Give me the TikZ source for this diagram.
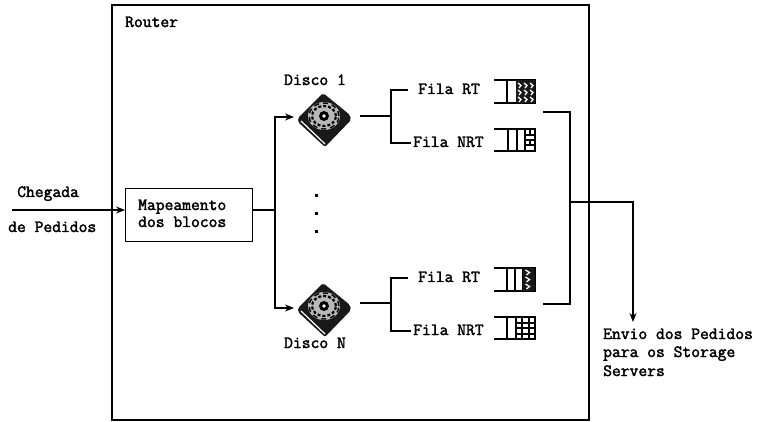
\documentclass[tikz,border=0pt]{standalone}
\usepackage{fontspec}
\newfontfamily\lblfont[FakeBold=2.2]{Latin Modern Mono}
\usetikzlibrary{arrows.meta,calc}
\tikzset{
  x=1pt,y=-1pt,
  lbl/.style={font=\lblfont\fontsize{17.1}{18}\selectfont,inner sep=0pt,text height=10pt,text depth=2pt,text=black},
  wire/.style={line width=1.05pt,black},
  arr/.style={wire,-{Stealth[length=9pt,width=7pt]}},
  point/.style={inner sep=0pt,minimum size=0pt}
}
\newcommand{\diskart}[1]{%
  \fill[black!90,rounded corners=2pt] ($(#1)+(-26,2)$) -- ($(#1)+(-1,-23)$) -- ($(#1)+(26,-1)$) -- ($(#1)+(27,4)$) -- ($(#1)+(1,31)$) -- ($(#1)+(-26,6)$) -- cycle;
  \draw[white,line width=1.2pt] ($(#1)+(-23,5)$) -- ($(#1)+(1,28)$);
  \fill[black!28] (#1) circle[x radius=16pt,y radius=14pt];
  \draw[black,line width=2.2pt,dash pattern=on 3pt off 2pt] (#1) circle[x radius=12pt,y radius=10pt];
  \draw[black,line width=1.4pt,dash pattern=on 5pt off 4pt] (#1) circle[x radius=15pt,y radius=13pt];
  \fill[black] (#1) circle[radius=5pt];
  \fill[white] (#1) circle[radius=1.8pt];
}
\newcommand{\queue}[3]{%
  \draw[wire] (494,#1) -- (535,#1) -- (535,#2) -- (494,#2);
  \foreach \xx in {#3}{\draw[wire] (\xx,#1) -- (\xx,#2);}
}
\begin{document}
\begin{tikzpicture}
\useasboundingbox (0,0) rectangle (758,422);
\fill[white] (0,0) rectangle (758,422);
\draw[wire] (112,5) rectangle (589,420);
\node[lbl,anchor=west] (routerlbl) at (125,23) {Router};
\coordinate (inp) at (12,210);
\node[draw,wire,minimum width=127pt,minimum height=53pt,anchor=north west,inner sep=0pt] (map) at (125,188) {};
\node[lbl,anchor=west] (m1) at (138,206) {Mapeamento};
\node[lbl,anchor=west] (m2) at (138,223) {dos blocos};
\node[lbl,anchor=west] (ch) at (17,193) {Chegada};
\node[lbl,anchor=west] (pe) at (8,228) {de Pedidos};
\draw[arr] (inp) -- (map.west |- inp);
\coordinate (bus) at (275,210);
\draw[wire] (map.east |- bus) -- (bus);
\node[point] (d1) at (324,116) {};
\node[point] (dn) at (324,306) {};
\diskart{d1}
\diskart{dn}
\coordinate (d1in) at (294,117);
\coordinate (dnin) at (294,308);
\draw[arr] (bus) |- (d1in);
\draw[arr] (bus) |- (dnin);
\node[lbl] (dl1) at (315,81) {Disco 1};
\node[lbl] (dln) at (315,344) {Disco N};
\foreach \yy in {196,214,232}{\fill (314.5,\yy-1.5) rectangle ++(3,3);}
\node[lbl,anchor=west] (f1) at (418,90) {Fila RT};
\node[lbl,anchor=west] (f2) at (413,143) {Fila NRT};
\node[lbl,anchor=west] (f3) at (418,278) {Fila RT};
\node[lbl,anchor=west] (f4) at (413,331) {Fila NRT};
\coordinate (j1) at (360,116);
\coordinate (j1m) at (391,116);
\coordinate (j2) at (360,303);
\coordinate (j2m) at (391,303);
\draw[wire] (j1) -- (j1m);
\draw[wire] (j2) -- (j2m);
\draw[wire,shorten >=10pt] (j1m) |- (f1.west);
\draw[wire,shorten >=2pt] (j1m) |- (f2.west);
\draw[wire,shorten >=10pt] (j2m) |- (f3.west);
\draw[wire,shorten >=2pt] (j2m) |- (f4.west);
\queue{80}{103}{507}
\queue{129}{151}{508,517,525}
\queue{268}{291}{507,515,523}
\queue{317}{339}{507,516}
\fill[black!90] (516,80) rectangle (535,103);
\foreach \a in {0,1,2}{\foreach \b in {0,1,2}{\draw[white,line width=1.3pt] (518+\a*6,83+\b*7) -- ++(3,2.5) -- ++(-2,2.5);}}
\fill[black!90] (523,268) rectangle (535,291);
\foreach \b in {0,1,2}{\draw[white,line width=1.3pt] (525.5,270+\b*7) -- ++(4,2.5) -- ++(-3,2.5);}
\foreach \yy in {135,140,145}{\draw[wire] (525,\yy) -- (535,\yy);}
\draw[wire] (530,129) -- (530,135) (530,140) -- (530,145);
\foreach \yy in {323,328,334}{\draw[wire] (516,\yy) -- (535,\yy);}
\foreach \xx in {522,529}{\draw[wire] (\xx,317) -- (\xx,339);}
\coordinate (q1) at (543,112);
\coordinate (q2) at (543,304);
\coordinate (tap) at (570,202);
\coordinate (outp) at (633,322);
\draw[wire] (q1) -| (570,304) -- (q2);
\draw[arr] (tap) -| (outp);
\node[lbl,anchor=west] (e1) at (603,335) {Envio dos Pedidos};
\node[lbl,anchor=west] (e2) at (603,353) {para os Storage};
\node[lbl,anchor=west] (e3) at (603,372) {Servers};
\end{tikzpicture}
\end{document}
